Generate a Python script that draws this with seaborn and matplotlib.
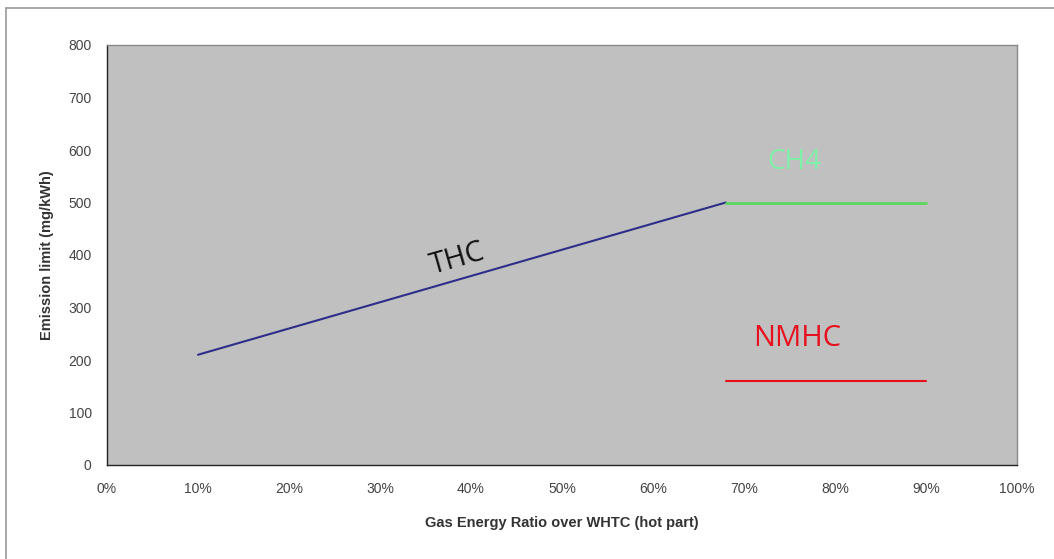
import matplotlib
matplotlib.use("Agg")
import matplotlib.pyplot as plt
import seaborn as sns
import pandas as pd
from matplotlib.lines import Line2D

# data (x in %, y in mg/kWh)
thc_x = [10, 68]
thc_y = [210, 500]
ch4_x = [68, 90]
ch4_y = [500, 500]
nmhc_x = [68, 90]
nmhc_y = [160, 160]

x_ticks = list(range(0, 101, 10))
y_ticks = list(range(0, 801, 100))

sns.set_style("white")
plt.rcParams['font.family'] = ['Liberation Sans', 'DejaVu Sans']

fig = plt.figure(figsize=(10.54, 5.59), dpi=100)
ax = fig.add_axes([107 / 1054, 1 - 465 / 559, 910 / 1054, 420 / 559])
ax.set_facecolor('#C0C0C0')

sns.lineplot(x=thc_x, y=thc_y, ax=ax, color='#2E2E8A', linewidth=1.5)
sns.lineplot(x=ch4_x, y=ch4_y, ax=ax, color='#5CD65C', linewidth=2)
sns.lineplot(x=nmhc_x, y=nmhc_y, ax=ax, color='#E8101E', linewidth=1.5)

ax.set_xlim(0, 100)
ax.set_ylim(0, 800)
ax.set_xticks(x_ticks)
ax.set_xticklabels([f"{t}%" for t in x_ticks])
ax.set_yticks(y_ticks)
ax.tick_params(axis='both', direction='out', length=4, width=0.8, colors='#222222',
               labelsize=10, labelcolor='#444444')
ax.tick_params(axis='x', pad=8)
ax.tick_params(axis='y', pad=7)

ax.set_xlabel('Gas Energy Ratio over WHTC (hot part)', fontsize=10.5, fontweight='bold',
              color='#333333', labelpad=15)
ax.set_ylabel('Emission limit (mg/kWh)', fontsize=10.5, fontweight='bold',
              color='#333333', labelpad=10)

for side in ['left', 'bottom']:
    ax.spines[side].set_color('#222222')
    ax.spines[side].set_linewidth(1)
for side in ['top', 'right']:
    ax.spines[side].set_color('#8A8A8A')
    ax.spines[side].set_linewidth(1)

# series labels
ax.text(38.5, 393, 'THC', fontsize=21, rotation=16, ha='center', va='center',
        color='#111111', family=['Open Sans', 'DejaVu Sans'])
ax.text(75.5, 577, 'CH4', fontsize=20, ha='center', va='center',
        color='#7EF0A8', family=['Open Sans', 'DejaVu Sans'])
ax.text(75.8, 240, 'NMHC', fontsize=21, ha='center', va='center',
        color='#E8101E', family=['Open Sans', 'DejaVu Sans'])

# light frame around the figure (left and top edges)
fig.add_artist(Line2D([6 / 1054, 6 / 1054], [0, 1 - 8 / 559], color='#9A9A9A', linewidth=1.2))
fig.add_artist(Line2D([6 / 1054, 1], [1 - 8 / 559, 1 - 8 / 559], color='#9A9A9A', linewidth=1.2))

fig.savefig('out.png', dpi=100)
